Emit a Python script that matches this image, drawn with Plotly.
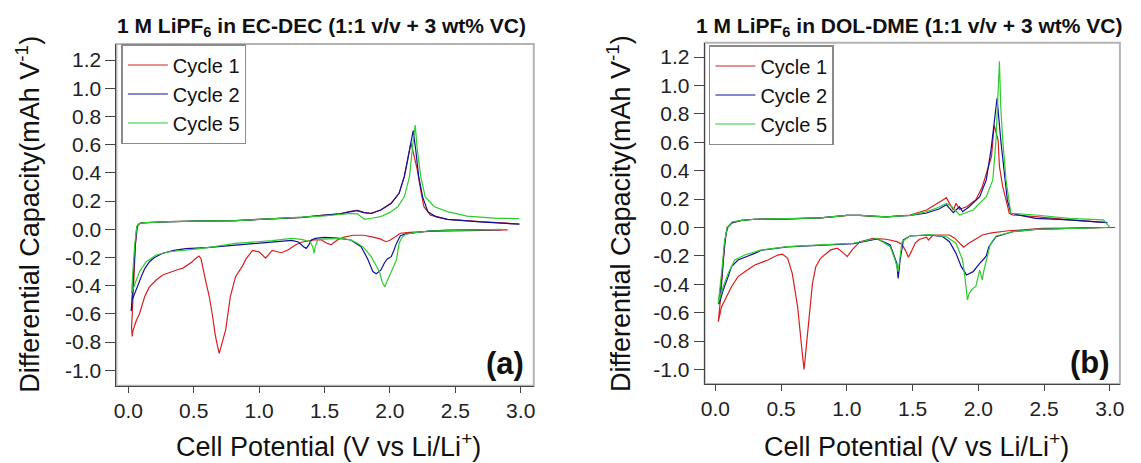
import plotly.graph_objects as go

# ---------------- data ----------------
cycles = ["Cycle 1", "Cycle 2", "Cycle 5"]
titles = ["1 M LiPF<sub>6</sub> in EC-DEC (1:1 v/v + 3 wt% VC)",
          "1 M LiPF<sub>6</sub> in DOL-DME (1:1 v/v + 3 wt% VC)"]
panel_tags = ["(a)", "(b)"]
x_ticks = [0.0, 0.5, 1.0, 1.5, 2.0, 2.5, 3.0]
x_tick_text = ["0.0", "0.5", "1.0", "1.5", "2.0", "2.5", "3.0"]
y_ticks = [-1.0, -0.8, -0.6, -0.4, -0.2, 0.0, 0.2, 0.4, 0.6, 0.8, 1.0, 1.2]
y_tick_text = ["-1.0", "-0.8", "-0.6", "-0.4", "-0.2", "0.0", "0.2", "0.4", "0.6", "0.8", "1.0", "1.2"]

# Panel (a) EC-DEC : each cycle = discharge (3 V -> 0 V) then charge (0 V -> 3 V)
a_c1_v = [2.90, 2.60, 2.30, 2.15, 2.08, 2.03, 2.00, 1.97, 1.93, 1.88, 1.80, 1.72, 1.65, 1.60, 1.55, 1.51,
          1.48, 1.43, 1.38, 1.33, 1.28, 1.22, 1.17, 1.13, 1.10, 1.05, 1.00, 0.95, 0.90, 0.87, 0.82, 0.78,
          0.745, 0.71, 0.695, 0.68, 0.665, 0.645, 0.62, 0.59, 0.57, 0.555, 0.54, 0.51, 0.49, 0.45, 0.415,
          0.38, 0.34, 0.30, 0.263, 0.213, 0.16, 0.125, 0.10, 0.085, 0.06, 0.045, 0.035, 0.03, 0.025,
          0.04, 0.055, 0.07, 0.085, 0.10, 0.20, 0.31, 0.50, 0.82, 1.00, 1.20, 1.33, 1.50, 1.62, 1.70, 1.75,
          1.80, 1.857, 1.93, 2.01, 2.07, 2.11, 2.135, 2.16, 2.17, 2.19, 2.21, 2.235, 2.26, 2.31, 2.44, 2.69, 2.99]
a_c1_q = [-0.004, -0.008, -0.015, -0.022, -0.028, -0.06, -0.078, -0.088, -0.07, -0.057, -0.042, -0.042, -0.055,
          -0.075, -0.11, -0.095, -0.076, -0.074, -0.08, -0.09, -0.11, -0.147, -0.166, -0.155, -0.15, -0.205,
          -0.16, -0.15, -0.21, -0.265, -0.336, -0.478, -0.71, -0.83, -0.88, -0.82, -0.75, -0.62, -0.48, -0.36,
          -0.26, -0.206, -0.19, -0.21, -0.23, -0.255, -0.277, -0.285, -0.30, -0.31, -0.324, -0.36, -0.41,
          -0.478, -0.55, -0.60, -0.65, -0.69, -0.72, -0.76, -0.70,
          -0.40, -0.10, 0.02, 0.040, 0.045, 0.050, 0.054, 0.058, 0.062, 0.070, 0.078, 0.085, 0.10, 0.11, 0.128,
          0.135, 0.12, 0.113, 0.137, 0.184, 0.255, 0.373, 0.49, 0.61, 0.58, 0.50, 0.42, 0.28, 0.16, 0.10, 0.071,
          0.054, 0.038]

a_c2_v = [2.85, 2.60, 2.44, 2.30, 2.19, 2.12, 2.08, 2.05, 2.03, 2.01, 1.98, 1.96, 1.93, 1.895, 1.87, 1.83,
          1.78, 1.70, 1.60, 1.50, 1.43, 1.40, 1.38, 1.36, 1.34, 1.30, 1.25, 1.10, 0.82, 0.60, 0.44, 0.35,
          0.263, 0.20, 0.162, 0.125, 0.099, 0.075, 0.061, 0.045, 0.03, 0.025, 0.022,
          0.035, 0.05, 0.065, 0.08, 0.10, 0.20, 0.31, 0.50, 0.82, 1.00, 1.20, 1.33, 1.50, 1.62, 1.70, 1.75,
          1.80, 1.857, 1.93, 2.01, 2.07, 2.11, 2.135, 2.16, 2.178, 2.198, 2.22, 2.25, 2.29, 2.35, 2.44, 2.69, 2.99]
a_c2_q = [-0.002, -0.004, -0.006, -0.012, -0.024, -0.033, -0.045, -0.10, -0.15, -0.194, -0.21, -0.235, -0.29,
          -0.315, -0.30, -0.21, -0.123, -0.076, -0.062, -0.057, -0.064, -0.075, -0.11, -0.135, -0.123, -0.09,
          -0.078, -0.09, -0.11, -0.13, -0.137, -0.15, -0.17, -0.20, -0.23, -0.28, -0.336, -0.39, -0.43, -0.47,
          -0.50, -0.55, -0.58,
          -0.40, -0.15, 0.02, 0.038, 0.045, 0.050, 0.054, 0.058, 0.062, 0.070, 0.078, 0.085, 0.10, 0.11, 0.125,
          0.132, 0.118, 0.112, 0.137, 0.184, 0.255, 0.373, 0.49, 0.60, 0.70, 0.56, 0.373, 0.23, 0.125, 0.09,
          0.071, 0.052, 0.036]

a_c5_v = [2.85, 2.60, 2.44, 2.30, 2.19, 2.12, 2.09, 2.07, 2.05, 2.01, 1.98, 1.96, 1.94, 1.92, 1.857, 1.80,
          1.756, 1.70, 1.63, 1.50, 1.45, 1.43, 1.42, 1.41, 1.39, 1.325, 1.25, 1.10, 0.82, 0.567, 0.40, 0.314,
          0.213, 0.137, 0.086, 0.049, 0.03, 0.025,
          0.035, 0.05, 0.065, 0.08, 0.10, 0.20, 0.31, 0.50, 0.82, 1.00, 1.20, 1.33, 1.50, 1.62, 1.705, 1.75,
          1.78, 1.806, 1.87, 1.93, 2.00, 2.06, 2.11, 2.15, 2.17, 2.193, 2.21, 2.236, 2.27, 2.34, 2.44, 2.59,
          2.82, 2.99]
a_c5_q = [0.0, -0.004, -0.006, -0.012, -0.024, -0.035, -0.06, -0.10, -0.218, -0.30, -0.36, -0.407, -0.37,
          -0.30, -0.194, -0.13, -0.10, -0.075, -0.064, -0.066, -0.071, -0.12, -0.17, -0.123, -0.088, -0.071,
          -0.064, -0.08, -0.10, -0.135, -0.148, -0.159, -0.182, -0.23, -0.30, -0.383, -0.43, -0.45,
          -0.30, -0.10, 0.02, 0.038, 0.045, 0.050, 0.054, 0.058, 0.062, 0.070, 0.078, 0.085, 0.095, 0.105,
          0.113, 0.11, 0.09, 0.071, 0.08, 0.09, 0.12, 0.16, 0.23, 0.373, 0.56, 0.74, 0.56, 0.373, 0.23, 0.16,
          0.125, 0.094, 0.078, 0.076]

# Panel (b) DOL-DME
b_c1_v = [3.04, 2.75, 2.49, 2.23, 2.10, 2.03, 1.98, 1.93, 1.888, 1.857, 1.82, 1.78, 1.70, 1.657, 1.62, 1.606,
          1.55, 1.52, 1.49, 1.468, 1.45, 1.42, 1.38, 1.30, 1.20, 1.10, 1.04, 1.003, 0.978, 0.928, 0.877, 0.80,
          0.764, 0.739, 0.714, 0.69, 0.675, 0.664, 0.65, 0.626, 0.585, 0.55, 0.51, 0.475, 0.40, 0.30, 0.224,
          0.173, 0.123, 0.085, 0.048, 0.023,
          0.04, 0.06, 0.08, 0.098, 0.123, 0.20, 0.30, 0.55, 0.80, 1.003, 1.10, 1.23, 1.30, 1.48, 1.606, 1.73,
          1.757, 1.78, 1.81, 1.83, 1.857, 1.91, 1.98, 2.03, 2.07, 2.10, 2.12, 2.15, 2.16, 2.185, 2.21, 2.235,
          2.26, 2.435, 2.69, 2.94, 2.98]
b_c1_q = [0.0, -0.002, -0.006, -0.023, -0.038, -0.053, -0.08, -0.11, -0.139, -0.11, -0.075, -0.053, -0.052,
          -0.053, -0.088, -0.069, -0.085, -0.11, -0.17, -0.21, -0.17, -0.12, -0.10, -0.083, -0.076, -0.10,
          -0.158, -0.205, -0.182, -0.146, -0.158, -0.217, -0.276, -0.393, -0.628, -0.84, -1.0, -0.91, -0.79,
          -0.558, -0.323, -0.217, -0.187, -0.194, -0.229, -0.264, -0.311, -0.346, -0.417, -0.487, -0.558,
          -0.663,
          -0.50, -0.25, -0.05, 0.006, 0.03, 0.05, 0.058, 0.06, 0.068, 0.085, 0.085, 0.076, 0.075, 0.088, 0.123,
          0.194, 0.21, 0.17, 0.123, 0.17, 0.128, 0.146, 0.194, 0.287, 0.405, 0.50, 0.72, 0.616, 0.43, 0.287,
          0.194, 0.10, 0.088, 0.076, 0.053, 0.034, 0.034]

b_c2_v = [2.94, 2.70, 2.435, 2.26, 2.134, 2.08, 2.06, 2.034, 2.01, 1.96, 1.91, 1.87, 1.83, 1.78, 1.73, 1.63,
          1.48, 1.43, 1.405, 1.39, 1.38, 1.33, 1.23, 1.05, 0.80, 0.55, 0.35, 0.30, 0.173, 0.123, 0.098, 0.06,
          0.035, 0.025,
          0.05, 0.07, 0.09, 0.13, 0.20, 0.30, 0.55, 0.80, 1.00, 1.10, 1.30, 1.48, 1.60, 1.70, 1.757, 1.79,
          1.81, 1.83, 1.857, 1.88, 1.93, 2.01, 2.06, 2.096, 2.12, 2.142, 2.17, 2.197, 2.22, 2.247, 2.435,
          2.69, 2.98]
b_c2_q = [0.0, -0.005, -0.013, -0.03, -0.065, -0.135, -0.20, -0.229, -0.252, -0.311, -0.334, -0.276, -0.182,
          -0.10, -0.065, -0.053, -0.06, -0.088, -0.229, -0.358, -0.252, -0.123, -0.08, -0.113, -0.125, -0.137,
          -0.16, -0.182, -0.229, -0.276, -0.346, -0.44, -0.52, -0.54,
          -0.35, -0.12, 0.0, 0.035, 0.05, 0.058, 0.06, 0.068, 0.085, 0.085, 0.075, 0.085, 0.10, 0.13, 0.16,
          0.13, 0.105, 0.123, 0.146, 0.111, 0.146, 0.217, 0.335, 0.546, 0.734, 0.91, 0.616, 0.38, 0.194, 0.10,
          0.064, 0.053, 0.034]

b_c5_v = [2.98, 2.70, 2.435, 2.26, 2.134, 2.09, 2.06, 2.04, 2.03, 2.01, 1.98, 1.96, 1.93, 1.917, 1.90, 1.88,
          1.83, 1.757, 1.63, 1.48, 1.42, 1.405, 1.39, 1.367, 1.33, 1.23, 1.05, 0.80, 0.55, 0.35, 0.224, 0.148,
          0.098, 0.06, 0.035, 0.023,
          0.05, 0.07, 0.09, 0.13, 0.20, 0.30, 0.55, 0.80, 1.00, 1.10, 1.30, 1.48, 1.60, 1.68, 1.757, 1.80,
          1.857, 1.96, 2.06, 2.11, 2.134, 2.147, 2.16, 2.17, 2.185, 2.21, 2.247, 2.435, 2.69, 2.95, 2.98, 3.00]
b_c5_q = [0.0, -0.005, -0.013, -0.03, -0.06, -0.12, -0.229, -0.311, -0.37, -0.30, -0.417, -0.428, -0.464,
          -0.51, -0.37, -0.229, -0.111, -0.065, -0.05, -0.06, -0.10, -0.229, -0.31, -0.229, -0.135, -0.076,
          -0.111, -0.123, -0.135, -0.158, -0.194, -0.229, -0.323, -0.417, -0.51, -0.534,
          -0.30, -0.10, 0.0, 0.04, 0.05, 0.058, 0.062, 0.068, 0.085, 0.085, 0.075, 0.085, 0.11, 0.135, 0.17,
          0.146, 0.088, 0.123, 0.217, 0.335, 0.616, 0.85, 1.17, 0.85, 0.616, 0.335, 0.10, 0.088, 0.064, 0.053,
          0.018, 0.0]

colors = ["#d42020", "#10109a", "#2ecc2e"]

panels = [
    [(a_c1_v, a_c1_q), (a_c2_v, a_c2_q), (a_c5_v, a_c5_q)],
    [(b_c1_v, b_c1_q), (b_c2_v, b_c2_q), (b_c5_v, b_c5_q)],
]

# ---------------- figure ----------------
W, H = 1141, 463
fig = go.Figure()

for p, curves in enumerate(panels):
    xa = "x" if p == 0 else "x2"
    ya = "y" if p == 0 else "y2"
    lg = "legend" if p == 0 else "legend2"
    for c, (v, q) in enumerate(curves):
        fig.add_trace(go.Scatter(x=v, y=q, mode="lines", name=cycles[c],
                                 line=dict(color=colors[c], width=1.2),
                                 xaxis=xa, yaxis=ya, legend=lg))

FONT = "Liberation Sans, Arial, sans-serif"
tick_font = dict(family=FONT, size=21, color="#222222")

def xax(domain, rng):
    return dict(domain=domain, range=rng, tickvals=x_ticks, ticktext=x_tick_text,
                ticks="outside", ticklen=6, tickwidth=1, tickcolor="#444444",
                showline=True, linecolor="#444444", linewidth=1, mirror=False,
                showgrid=False, zeroline=False, tickfont=tick_font)

def yax(domain, rng, anchor):
    return dict(domain=domain, range=rng, tickvals=y_ticks, ticktext=y_tick_text,
                ticks="outside", ticklen=10, tickwidth=1, tickcolor="#444444",
                showline=True, linecolor="#444444", linewidth=1, mirror=False,
                showgrid=False, zeroline=False, tickfont=tick_font, anchor=anchor)

dom_x1 = [113.3 / W, 534.0 / W]
dom_x2 = [706.2 / W, 1124.8 / W]
dom_y1 = [1 - 385.7 / H, 1 - 44.0 / H]
dom_y2 = [1 - 384.0 / H, 1 - 42.7 / H]

legend_common = dict(bgcolor="white", bordercolor="#8a8a8a", borderwidth=1.5,
                     font=dict(family=FONT, size=20, color="#111111"),
                     xanchor="left", yanchor="top", tracegroupgap=0, itemwidth=40)

fig.update_layout(
    width=W, height=H, margin=dict(l=0, r=0, t=0, b=0),
    paper_bgcolor="white", plot_bgcolor="white",
    xaxis=dict(**xax(dom_x1, [-0.091, 3.10]), anchor="y"),
    yaxis=yax(dom_y1, [-1.109, 1.314], "x"),
    xaxis2=dict(**xax(dom_x2, [-0.081, 3.076]), anchor="y2"),
    yaxis2=yax(dom_y2, [-1.102, 1.301], "x2"),
    legend=dict(**legend_common, x=118.3 / W, y=1 - 44.0 / H),
    legend2=dict(**legend_common, x=710.5 / W, y=1 - 45.0 / H),
    showlegend=True,
)

# frame (top/right light grey box)
for xr, yr in (("x domain", "y domain"), ("x2 domain", "y2 domain")):
    fig.add_shape(type="rect", xref=xr, yref=yr, x0=0, x1=1, y0=0, y1=1,
                  line=dict(color="#b4b4b4", width=2), layer="below")

ann = []
title_pos = [(320 / W, 1 - 27 / H), (913 / W, 1 - 27 / H)]
xt_pos = [(327 / W, 1 - 445 / H), (919.5 / W, 1 - 445 / H)]
yt_pos = [(24 / W, 1 - 214 / H), (620 / W, 1 - 214 / H)]
tag_pos = [(505 / W, 1 - 363 / H), (1095 / W, 1 - 362 / H)]
for p in range(2):
    ann.append(dict(text="<b>" + titles[p] + "</b>", x=title_pos[p][0], y=title_pos[p][1],
                    xref="paper", yref="paper", showarrow=False, xanchor="center", yanchor="middle",
                    font=dict(family=FONT, size=21, color="#111111")))
    ann.append(dict(text="Cell Potential (V vs Li/Li<sup>+</sup>)", x=xt_pos[p][0], y=xt_pos[p][1],
                    xref="paper", yref="paper", showarrow=False, xanchor="center", yanchor="middle",
                    font=dict(family=FONT, size=27, color="#111111")))
    ann.append(dict(text="Differential Capacity(mAh V<sup>-1</sup>)", x=yt_pos[p][0], y=yt_pos[p][1],
                    xref="paper", yref="paper", showarrow=False, textangle=-90,
                    xanchor="center", yanchor="middle",
                    font=dict(family=FONT, size=27, color="#111111")))
    ann.append(dict(text="<b>" + panel_tags[p] + "</b>", x=tag_pos[p][0], y=tag_pos[p][1],
                    xref="paper", yref="paper", showarrow=False, xanchor="center", yanchor="middle",
                    font=dict(family=FONT, size=31, color="#111111")))
fig.update_layout(annotations=ann)

fig.write_html("out.html")
